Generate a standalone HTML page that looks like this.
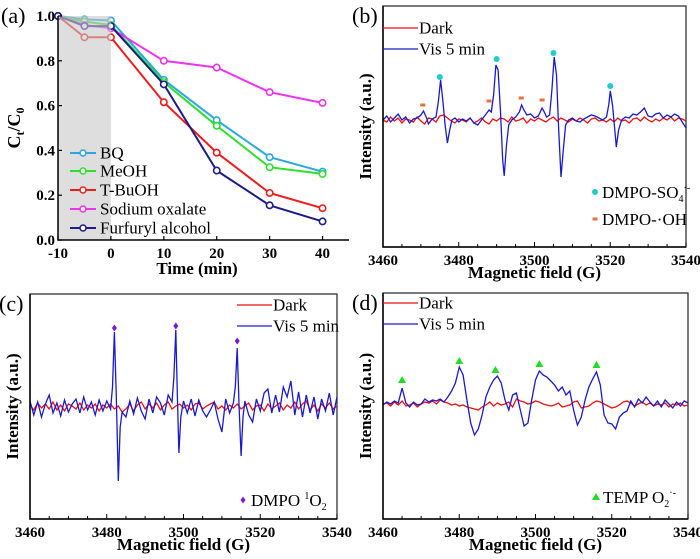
<!DOCTYPE html>
<html><head><meta charset="utf-8">
<style>
html,body{margin:0;padding:0;background:#fff;}
svg{display:block;}
svg text{font-family:"Liberation Serif",serif;}
</style></head>
<body>
<svg id="fig" width="700" height="559" viewBox="0 0 700 559" xmlns="http://www.w3.org/2000/svg" font-family="Liberation Serif, serif"></svg>
<script>
// ---------- Panel (a) data ----------
const timesA = [-10, -5, 0, 10, 20, 30, 40];
const seriesNames = ["BQ", "MeOH", "T-BuOH", "Sodium oxalate", "Furfuryl alcohol"];
const bqVals = [1.0, 0.985, 0.98, 0.715, 0.535, 0.37, 0.305];
const meohVals = [1.0, 0.975, 0.96, 0.705, 0.51, 0.325, 0.295];
const tbuohVals = [1.0, 0.905, 0.905, 0.615, 0.39, 0.21, 0.142];
const oxalateVals = [1.0, 0.96, 0.945, 0.80, 0.77, 0.66, 0.612];
const furfurylVals = [1.0, 0.955, 0.955, 0.695, 0.31, 0.155, 0.083];
const xTicksA = [-10, 0, 10, 20, 30, 40];
const yTicksA = [0.0, 0.2, 0.4, 0.6, 0.8, 1.0];
const fieldTicks = [3460, 3480, 3500, 3520, 3540];

// integer field grid for dark spectra
const fieldGrid = [3460,3461,3462,3463,3464,3465,3466,3467,3468,3469,3470,3471,3472,3473,3474,3475,3476,3477,3478,3479,3480,3481,3482,3483,3484,3485,3486,3487,3488,3489,3490,3491,3492,3493,3494,3495,3496,3497,3498,3499,3500,3501,3502,3503,3504,3505,3506,3507,3508,3509,3510,3511,3512,3513,3514,3515,3516,3517,3518,3519,3520,3521,3522,3523,3524,3525,3526,3527,3528,3529,3530,3531,3532,3533,3534,3535,3536,3537,3538,3539,3540];

// ---------- Panel (b) data ----------
const fieldB = [3460,3461,3462,3463,3464,3465,3466,3467,3468,3469,3470,3470.7,3471.5,3472,3473,3474,3474.6,3475.2,3475.8,3476.4,3477,3477.6,3478.2,3479,3480,3481,3482,3483,3484,3485,3486,3487,3488,3488.6,3489.2,3489.8,3490.4,3491,3491.6,3492,3492.6,3493.2,3494,3495,3496,3496.6,3497.2,3498,3499,3500,3501,3502,3502.6,3503.2,3504,3504.6,3505.2,3505.8,3506.4,3507,3507.6,3508.2,3509,3510,3511,3512,3513,3514,3515,3516,3517,3518,3519,3519.6,3520,3520.6,3521.2,3521.6,3522.2,3523,3524,3525,3526,3527,3528,3529,3530,3531,3532,3533,3534,3535,3536,3537,3538,3539,3540];
const visB = [0,4,-2,2,6,0,3,-3,1,2,5,9,2,-4,1,3,18,40,20,-5,-23,-10,0,2,-2,1,-1,2,-3,-5,0,5,10,8,25,55,50,10,-40,-56,-25,-5,0,3,8,15,10,5,6,2,4,12,8,3,5,30,63,45,-10,-57,-30,-5,0,2,-1,-2,1,3,5,4,2,0,3,15,29,15,-10,-27,-10,0,3,2,6,5,8,12,4,3,6,7,2,5,3,6,4,-2,-8];
const darkB = [0,-2,3,-1,2,-3,1,0,-2,3,-1,-4,2,1,-2,4,5,2,-1,-3,1,0,-2,2,-3,-1,2,-2,-4,1,-1,2,1,-2,3,-1,0,2,-3,1,-1,2,0,-2,1,3,-1,2,0,-2,1,-1,2,0,-3,1,2,-1,0,-2,1,-2,2,-1,0,-3,1,2,-1,3,0,-2,1,-1,2,0,3,-1,2,1,-1];
const dmpoSO4Fields = [3475, 3490, 3505, 3520];
const dmpoSO4Vals = [43, 61, 67, 34];
const dmpoOHFields = [3470.5, 3488, 3496.5, 3502];
const dmpoOHVals = [15, 19, 22, 20];

// ---------- Panel (c) data ----------
const fieldC = [3460,3461,3462,3463,3464,3465,3466,3467,3468,3469,3470,3471,3472,3473,3474,3475,3476,3477,3478,3479,3480,3481,3481.5,3482,3482.5,3483,3483.5,3484,3485,3486,3487,3488,3489,3490,3491,3492,3493,3494,3495,3496,3497,3497.5,3498,3498.4,3498.8,3499.3,3500,3501,3502,3503,3504,3505,3506,3507,3508,3509,3510,3511,3512,3513,3513.5,3514,3514.5,3515,3515.5,3516,3517,3518,3519,3520,3521,3522,3523,3524,3525,3526,3527,3528,3529,3530,3531,3532,3533,3534,3535,3536,3537,3538,3539,3540];
const visC = [6,-8,5,-10,3,12,-6,4,-9,7,-5,3,8,-6,10,-3,5,-8,7,-4,6,-2,20,75,10,-74,-20,-5,-10,6,-7,9,-4,-12,8,-6,10,4,-8,12,5,30,77,10,-46,-10,6,-6,8,-9,7,-4,-10,-3,5,-12,-25,8,-6,4,20,59,0,-49,-10,6,-8,-15,8,-4,14,18,-6,12,-5,20,10,26,-8,15,-10,12,-6,10,-12,8,-4,14,-8,10,-15];
const darkC = [2,-3,4,-1,3,-2,5,-3,2,-4,3,1,-2,4,-3,2,-1,3,-4,2,-1,3,-2,1,-5,-2,3,-4,2,5,-2,3,-1,4,-3,2,5,-2,1,3,-1,2,-3,3,4,-2,1,3,5,-2,1,-3,2,-1,3,-2,1,4,-3,1,2,-4,3,-2,1,4,-3,2,-1,5,-2,3,6,-3,2,-4,3,-1,4,-2,1];
const dmpoO2Fields = [3482, 3498, 3514];
const dmpoO2Vals = [79, 81, 66];

// ---------- Panel (d) data ----------
const fieldD = [3460,3461,3462,3463,3464,3465,3466,3467,3468,3469,3470,3471,3472,3473,3474,3475,3476,3477,3478,3479,3480,3481,3482,3483,3484,3485,3486,3487,3488,3489,3490,3491,3492,3493,3494,3495,3496,3497,3498,3499,3500,3501,3502,3503,3504,3505,3506,3507,3508,3509,3510,3511,3512,3513,3514,3515,3516,3517,3518,3519,3520,3521,3522,3523,3524,3525,3526,3527,3528,3529,3530,3531,3532,3533,3534,3535,3536,3537,3538,3539,3540];
const visD = [0,3,1,4,2,17,2,-2,3,0,1,6,3,5,4,6,3,8,14,22,38,30,5,-18,-30,-24,-10,8,18,25,29,22,5,-5,10,12,-5,-21,-18,5,25,34,30,28,24,20,14,18,10,14,-5,-20,-12,5,18,26,33,20,-10,-18,-19,-24,-12,-8,-6,4,-2,6,2,8,3,-1,4,-2,5,1,-3,3,-1,4,2];
const darkD = [1,2,-1,3,0,4,-1,0,2,-2,1,3,2,4,1,5,3,2,0,1,-1,0,-2,-3,-4,-5,-2,0,3,-1,2,0,1,3,-2,6,4,3,1,2,4,3,1,0,-1,0,2,-2,-1,0,3,4,-3,-2,-1,2,4,3,1,-1,-3,-2,0,3,4,2,-1,1,3,0,2,-1,1,0,2,-2,1,0,2,-1,0];
const tempFields = [3465, 3480, 3489.5, 3501, 3516];
const tempVals = [25, 44, 35, 41, 40];

// ---------- helpers ----------
const NS = "http://www.w3.org/2000/svg";
const FONT = "'Liberation Serif', serif";
const svg = document.getElementById("fig");
function mk(tag, attrs, parent) {
  const e = document.createElementNS(NS, tag);
  for (const k in attrs) e.setAttribute(k, attrs[k]);
  (parent || svg).appendChild(e);
  return e;
}
function lin(d0, d1, r0, r1) { return v => r0 + (v - d0) * (r1 - r0) / (d1 - d0); }
function txt(x, y, s, size, extra, parent) {
  const t = mk("text", Object.assign({x: x, y: y, "font-size": size, fill: "#000", "font-family": FONT}, extra || {}), parent);
  t.textContent = s;
  return t;
}
function pathFrom(xs, ys, sx, sy) {
  return xs.map((v, i) => (i ? "L" : "M") + sx(v).toFixed(1) + "," + sy(ys[i]).toFixed(1)).join("");
}

// ---------- Panel (a) ----------
(function () {
  const L = 58, R = 349, T = 16, B = 240;
  const sx = lin(-10, 45, L, R), sy = lin(0, 1, B, T);
  const colors = ["#2aa7e0", "#2ee02e", "#ee1c1c", "#ee33ee", "#1c1c8a"];
  const data = [bqVals, meohVals, tbuohVals, oxalateVals, furfurylVals];
  const keys = ["bq", "meoh", "tbuoh", "sodium-oxalate", "furfuryl-alcohol"];
  data.forEach((vals, k) => {
    const p = mk("path", {d: pathFrom(timesA, vals, sx, sy), fill: "none", stroke: colors[k], "stroke-width": 2});
    
    
    vals.forEach((v, i) => {
      const c = mk("circle", {cx: sx(timesA[i]), cy: sy(v), r: 3.2, fill: "#fff", stroke: colors[k], "stroke-width": 1.6});
      
      
    });
  });
  const shade = mk("rect", {x: sx(-10), y: T, width: sx(0) - sx(-10), height: B - T, fill: "#c8c8c8", "fill-opacity": 0.6});
  
  
  const ax = mk("path", {d: `M${L},${T}V${B}H${R}`, fill: "none", stroke: "#000", "stroke-width": 1.5});
  
  
  yTicksA.forEach(v => {
    mk("line", {x1: L, x2: L + 4, y1: sy(v), y2: sy(v), stroke: "#000", "stroke-width": 1.2});
    const t = txt(L - 3, sy(v) + 5, v.toFixed(1), 15, {"text-anchor": "end", "font-weight": "bold"});
    
    
  });
  xTicksA.forEach(v => {
    mk("line", {x1: sx(v), x2: sx(v), y1: B, y2: B - 4, stroke: "#000", "stroke-width": 1.2});
    const t = txt(sx(v), B + 18, String(v), 15, {"text-anchor": "middle", "font-weight": "bold"});
    
    
  });
  const xt = txt(197, 274, "Time (min)", 17, {"text-anchor": "middle", "font-weight": "bold"});
  
  
  const yt = mk("text", {x: 0, y: 0, "font-size": 18, "font-weight": "bold", "text-anchor": "middle", "font-family": FONT, transform: "translate(20,128) rotate(-90)"});
  yt.innerHTML = 'C<tspan font-size="12" dy="4">t</tspan><tspan dy="-4">/C</tspan><tspan font-size="12" dy="4">0</tspan>';
  
  
  const ly = [153, 171, 190, 209, 228];
  seriesNames.forEach((n, k) => {
    const g = mk("g", {});
    
    
    mk("line", {x1: 70, x2: 96, y1: ly[k], y2: ly[k], stroke: colors[k], "stroke-width": 2}, g);
    mk("circle", {cx: 83, cy: ly[k], r: 3, fill: "#fff", stroke: colors[k], "stroke-width": 1.5}, g);
    txt(100, ly[k] + 5.5, n, 17, {}, g);
  });
  const lab = txt(1, 23, "(a)", 22, {});
  
  
})();

// ---------- EPR panel builder ----------
function eprPanel(o) {
  const sx = lin(3460, 3540, o.L, o.R), sy = lin(0, 1, o.base, o.base - 1);
  const frame = mk("rect", {x: o.L, y: o.T, width: o.R - o.L, height: o.B - o.T, fill: "none", stroke: "#333", "stroke-width": 1.3});
  
  
  const dk = mk("path", {d: pathFrom(o.fd, o.dark, sx, sy), fill: "none", stroke: "#ee1111", "stroke-width": 1.3});
  
  
  const vs = mk("path", {d: pathFrom(o.fv, o.vis, sx, sy), fill: "none", stroke: "#1a1acc", "stroke-width": 1.3});
  
  
  mk("path", {d: `M${o.L},${o.T}V${o.B}H${o.R}`, fill: "none", stroke: "#000", "stroke-width": 1.5});
  for (let f = 3460; f <= 3540; f += 5) {
    mk("line", {x1: sx(f), x2: sx(f), y1: o.B, y2: o.B - (f % 20 === 0 ? 5 : 3), stroke: "#000", "stroke-width": 1});
  }
  fieldTicks.forEach(v => {
    const t = txt(sx(v), o.B + 18, String(v), 15, {"text-anchor": "middle", "font-weight": "bold"});
    
    
  });
  const xt = txt((o.L + o.R) / 2, o.B + 31, "Magnetic field (G)", 17, {"text-anchor": "middle", "font-weight": "bold"});
  
  
  const yt = txt(0, 0, "Intensity (a.u.)", 17, {"text-anchor": "middle", "font-weight": "bold", transform: `translate(${o.L - 12},${(o.T + o.B) / 2}) rotate(-90)`});
  
  
  const g1 = mk("g", {});
  
  
  mk("line", {x1: o.legX, x2: o.legX + 35, y1: o.legY, y2: o.legY, stroke: "#ee1111", "stroke-width": 1.3}, g1);
  txt(o.legX + 36, o.legY + 5.5, "Dark", 17, {}, g1);
  const g2 = mk("g", {});
  
  
  mk("line", {x1: o.legX, x2: o.legX + 35, y1: o.legY + 21, y2: o.legY + 21, stroke: "#1a1acc", "stroke-width": 1.3}, g2);
  txt(o.legX + 36, o.legY + 26.5, "Vis 5 min", 17, {}, g2);
  const lab = txt(o.L - 31, o.T + 17, "(" + o.id + ")", 22, {});
  
  
  return {sx, sy};
}

// ---------- Panel (b) ----------
(function () {
  const s = eprPanel({id: "b", L: 383, R: 686, T: 6, B: 247, base: 120, fd: fieldGrid, dark: darkB, fv: fieldB, vis: visB, legX: 383, legY: 28});
  dmpoSO4Fields.forEach((f, i) => {
    const c = mk("circle", {cx: s.sx(f), cy: s.sy(dmpoSO4Vals[i]), r: 3, fill: "#22cccc"});
    
    
  });
  dmpoOHFields.forEach((f, i) => {
    const r = mk("rect", {x: s.sx(f) - 2.5, y: s.sy(dmpoOHVals[i]) - 1.5, width: 5, height: 3, fill: "#e8703a"});
    
    
  });
  const g = mk("g", {});
  
  
  mk("circle", {cx: 595, cy: 192, r: 3, fill: "#22cccc"}, g);
  const t = mk("text", {x: 602, y: 198, "font-size": 17, "font-family": FONT}, g);
  t.innerHTML = 'DMPO-SO<tspan font-size="10" dy="4">4</tspan><tspan font-size="10" dy="-11">·-</tspan>';
  const g2 = mk("g", {});
  
  
  mk("rect", {x: 592.5, y: 217.5, width: 5, height: 3, fill: "#e8703a"}, g2);
  txt(602, 225, "DMPO-·OH", 17, {}, g2);
})();

// ---------- Panel (c) ----------
(function () {
  const s = eprPanel({id: "c", L: 30, R: 337, T: 294, B: 519, base: 407, fd: fieldGrid, dark: darkC, fv: fieldC, vis: visC, legX: 237, legY: 305});
  dmpoO2Fields.forEach((f, i) => {
    const x = s.sx(f), y = s.sy(dmpoO2Vals[i]);
    const d = mk("path", {d: `M${x},${y - 3.5}L${x + 2.5},${y}L${x},${y + 3.5}L${x - 2.5},${y}Z`, fill: "#7a1ad6"});
    
    
  });
  const g = mk("g", {});
  
  
  mk("path", {d: "M243,496.5L245.5,500L243,503.5L240.5,500Z", fill: "#7a1ad6"}, g);
  const t = mk("text", {x: 251, y: 506, "font-size": 17, "font-family": FONT}, g);
  t.innerHTML = 'DMPO <tspan font-size="10" dy="-7">1</tspan><tspan dy="7">O</tspan><tspan font-size="10" dy="4">2</tspan>';
})();

// ---------- Panel (d) ----------
(function () {
  const s = eprPanel({id: "d", L: 383, R: 688, T: 293, B: 519, base: 405, fd: fieldGrid, dark: darkD, fv: fieldD, vis: visD, legX: 383, legY: 303});
  tempFields.forEach((f, i) => {
    const x = s.sx(f), y = s.sy(tempVals[i]);
    const p = mk("path", {d: `M${x},${y - 4}L${x + 4},${y + 3}L${x - 4},${y + 3}Z`, fill: "#22dd22"});
    
    
  });
  const g = mk("g", {});
  
  
  mk("path", {d: "M596,493L600,500L592,500Z", fill: "#22dd22"}, g);
  const t = mk("text", {x: 603, y: 503, "font-size": 17, "font-family": FONT}, g);
  t.innerHTML = 'TEMP O<tspan font-size="10" dy="4">2</tspan><tspan font-size="10" dy="-11">·-</tspan>';
})();
</script>
</body></html>
